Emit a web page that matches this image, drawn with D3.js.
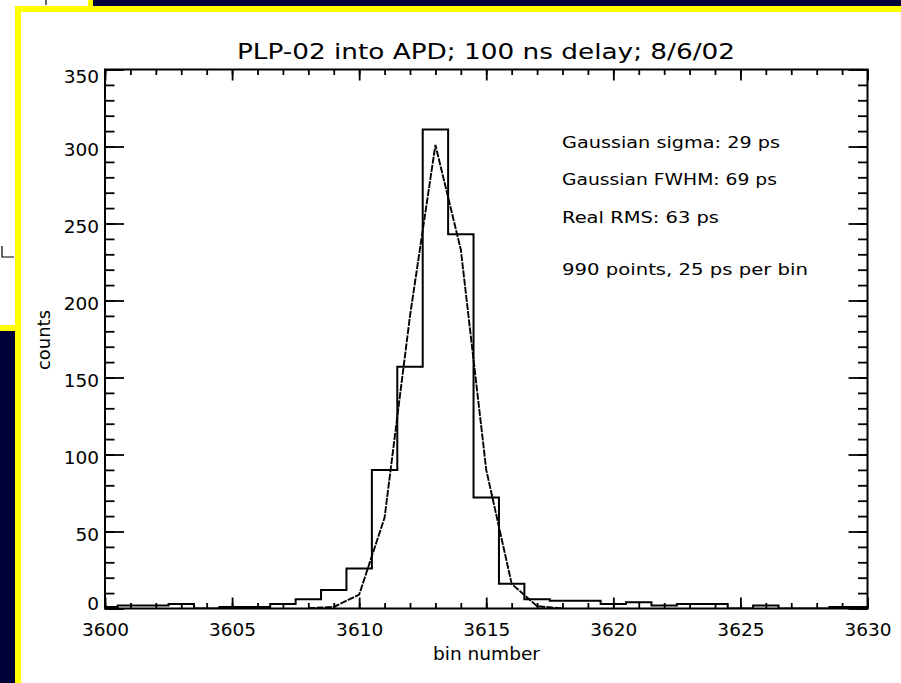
<!DOCTYPE html>
<html><head><meta charset="utf-8">
<script src="https://cdn.jsdelivr.net/npm/d3@7"></script>
<style>
body{margin:0;background:#fff}
svg{display:block}
text{font-family:"DejaVu Sans",sans-serif;fill:#000}
</style></head>
<body><svg id="c" width="901" height="683"></svg>
<script>
// ---- data ----
const binNumbers = [3600,3601,3602,3603,3604,3605,3606,3607,3608,3609,3610,3611,3612,3613,3614,3615,3616,3617,3618,3619,3620,3621,3622,3623,3624,3625,3626,3627,3628,3629,3630];
const binCounts  = [1,2,2,3,0,1,1,3,6,12,26,90,157,311,243,72,16,6,5,5,3,4,2,3,3,0,2,0,0,1,1];
const fitBins    = [3608,3609,3610,3611,3612,3613,3614,3615,3616,3617,3618];
const fitCounts  = [0.2,1,9,59,190,301,233,90,16,1.5,0];
const xMajorTicks = [3600,3605,3610,3615,3620,3625,3630];
const yMajorTicks = [0,50,100,150,200,250,300,350];
const titleText = "PLP-02 into APD; 100 ns delay; 8/6/02";
const xTitle = "bin number";
const yTitle = "counts";
const notes = ["Gaussian sigma: 29 ps","Gaussian FWHM: 69 ps","Real RMS: 63 ps","990 points, 25 ps per bin"];

const svg = d3.select("#c");
const NAVY = "#000038", YEL = "#ffff00";

// ---- slide frame around the plot ----
svg.append("rect").attr("x",93).attr("y",0).attr("width",808).attr("height",6).attr("fill",NAVY);
svg.append("rect").attr("x",88).attr("y",0).attr("width",5).attr("height",6).attr("fill",YEL);
svg.append("rect").attr("x",15).attr("y",6).attr("width",886).attr("height",6).attr("fill",YEL);
svg.append("rect").attr("x",15).attr("y",6).attr("width",6).attr("height",677).attr("fill",YEL);
svg.append("rect").attr("x",0).attr("y",325).attr("width",15).attr("height",6).attr("fill",YEL);
svg.append("rect").attr("x",0).attr("y",331).attr("width",15).attr("height",352).attr("fill",NAVY);
svg.append("line").attr("x1",46).attr("x2",46).attr("y1",0).attr("y2",5).attr("stroke","#000").attr("stroke-width",1.2);
svg.append("path").attr("d","M2,246V257H14").attr("fill","none").attr("stroke","#000").attr("stroke-width",1.2);

// ---- plot ----
const m = {left:105, top:69.5, right:867.5, bottom:608.5};
const x = d3.scaleLinear().domain([3600,3630]).range([m.left,m.right]);
const y = d3.scaleLinear().domain([0,350]).range([m.bottom,m.top]);

svg.append("defs").append("clipPath").attr("id","clip")
  .append("rect").attr("x",m.left).attr("y",m.top).attr("width",m.right-m.left).attr("height",m.bottom-m.top);

function styleAxis(g){
  g.select(".domain").remove();
  g.selectAll(".tick line").attr("stroke","#000").attr("stroke-width",1.8);
  g.selectAll(".tick text").attr("font-size",18.5).attr("font-family","DejaVu Sans, sans-serif").attr("fill","#000");
  g.attr("font-family",null).attr("font-size",null);
}
const xMinor = x.ticks(30), yMinor = y.ticks(35);

// bottom
svg.append("g").attr("transform",`translate(0,${m.bottom})`)
  .call(d3.axisBottom(x).tickValues(xMinor).tickSize(-5.5).tickFormat("")).call(styleAxis);
svg.append("g").attr("transform",`translate(0,${m.bottom})`)
  .call(d3.axisBottom(x).tickValues(xMajorTicks).tickSize(-11).tickPadding(14).tickFormat(d3.format("d"))).call(styleAxis);
// top
svg.append("g").attr("transform",`translate(0,${m.top})`)
  .call(d3.axisTop(x).tickValues(xMinor).tickSize(-5.5).tickFormat("")).call(styleAxis);
svg.append("g").attr("transform",`translate(0,${m.top})`)
  .call(d3.axisTop(x).tickValues(xMajorTicks).tickSize(-11).tickFormat("")).call(styleAxis);
// left
svg.append("g").attr("transform",`translate(${m.left},0)`)
  .call(d3.axisLeft(y).tickValues(yMinor).tickSize(-9.5).tickFormat("")).call(styleAxis);
const gl = svg.append("g").attr("transform",`translate(${m.left},0)`)
  .call(d3.axisLeft(y).tickValues(yMajorTicks).tickSize(-19).tickPadding(6).tickFormat(d3.format("d"))).call(styleAxis);
gl.selectAll(".tick text").attr("dy", d => d===0 ? "1px" : (d===350 ? "13px" : "9px"));
// right
svg.append("g").attr("transform",`translate(${m.right},0)`)
  .call(d3.axisRight(y).tickValues(yMinor).tickSize(-9.5).tickFormat("")).call(styleAxis);
svg.append("g").attr("transform",`translate(${m.right},0)`)
  .call(d3.axisRight(y).tickValues(yMajorTicks).tickSize(-19).tickFormat("")).call(styleAxis);

// frame
svg.append("rect").attr("x",m.left).attr("y",m.top).attr("width",m.right-m.left).attr("height",m.bottom-m.top)
  .attr("fill","none").attr("stroke","#000").attr("stroke-width",2);

// histogram
const histData = binNumbers.map((b,i)=>[b,binCounts[i]]);
svg.append("path").datum(histData).attr("clip-path","url(#clip)")
  .attr("d", d3.line().x(d=>x(d[0])).y(d=>y(d[1])).curve(d3.curveStep))
  .attr("fill","none").attr("stroke","#000").attr("stroke-width",2);

// gaussian fit
const fitData = fitBins.map((b,i)=>[b,fitCounts[i]]);
svg.append("path").datum(fitData).attr("clip-path","url(#clip)")
  .attr("d", d3.line().x(d=>x(d[0])).y(d=>y(d[1])))
  .attr("fill","none").attr("stroke","#000").attr("stroke-width",1.9).attr("stroke-dasharray","7,1.2");

// titles
svg.append("text").attr("x",486).attr("y",59).attr("text-anchor","middle").attr("font-size",22)
  .attr("textLength",498).attr("lengthAdjust","spacingAndGlyphs").text(titleText);
svg.append("text").attr("x",486.5).attr("y",660).attr("text-anchor","middle").attr("font-size",18.5)
  .attr("textLength",107).attr("lengthAdjust","spacingAndGlyphs").text(xTitle);
svg.append("text").attr("transform","translate(50,340) rotate(-90)").attr("text-anchor","middle").attr("font-size",18.5)
  .attr("textLength",60).attr("lengthAdjust","spacingAndGlyphs").text(yTitle);

// annotations
const noteY = [148,185,223,275], noteW = [218,215,157,246];
svg.selectAll("text.note").data(notes).enter().append("text").attr("class","note")
  .attr("x",562).attr("y",(d,i)=>noteY[i]).attr("font-size",16.5)
  .attr("textLength",(d,i)=>noteW[i]).attr("lengthAdjust","spacingAndGlyphs").text(d=>d);
</script></body></html>
